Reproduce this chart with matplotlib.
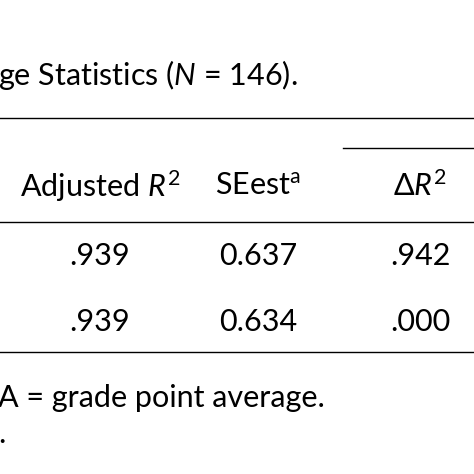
import matplotlib.pyplot as plt

plt.rcParams['font.family'] = ['Lato', 'DejaVu Sans']
plt.rcParams['mathtext.fontset'] = 'custom'
plt.rcParams['mathtext.rm'] = 'Lato'
plt.rcParams['mathtext.it'] = 'Lato:italic'

title = "ge Statistics ($\\it{N}$ = 146)."
headers = ["Adjusted $\\it{R}^2$", "SEest$^{\\rm a}$", "Δ$\\it{R}^2$"]
adjusted_r2 = [".939", ".939"]
se_est = ["0.637", "0.634"]
delta_r2 = [".942", ".000"]
footnotes = ["A = grade point average.", "."]

W = H = 474
fig = plt.figure(figsize=(W / 100, H / 100), dpi=100)
ax = fig.add_axes([0, 0, 1, 1])
ax.set_xlim(0, W)
ax.set_ylim(H, 0)
ax.axis('off')

fs = 22
ax.text(-2, 75, title, fontsize=fs, va='center', ha='left')

ax.plot([0, W], [118, 118], color='black', lw=1)
ax.plot([343, W], [148, 148], color='black', lw=1)
ax.plot([0, W], [222, 222], color='black', lw=1)
ax.plot([0, W], [352, 352], color='black', lw=1)

col_x = [100, 258, 420]
for x, h in zip(col_x, headers):
    ax.text(x, 186, h, fontsize=fs, va='center', ha='center')

row_y = [256, 322]
for i, y in enumerate(row_y):
    for x, col in zip(col_x, [adjusted_r2, se_est, delta_r2]):
        ax.text(x, y, col[i], fontsize=fs, va='center', ha='center')

ax.text(-2, 398, footnotes[0], fontsize=fs, va='center', ha='left')
ax.text(-2, 434, footnotes[1], fontsize=fs, va='center', ha='left')

fig.savefig('out.png', dpi=100, facecolor='white')
